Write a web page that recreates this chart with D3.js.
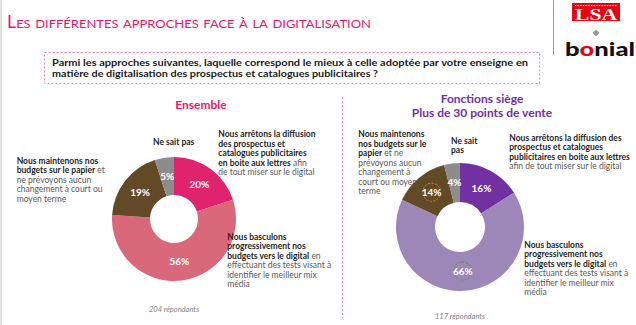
<!DOCTYPE html>
<html>
<head>
<meta charset="utf-8">
<script src="https://cdn.jsdelivr.net/npm/d3@7"></script>
<style>
  body { margin: 0; background: #fff; }
  svg { display: block; font-family: Lato, 'Open Sans', sans-serif; }
</style>
</head>
<body>
<div id="chart"></div>
<script>
// answers, in the order of the slices (clockwise from 12 o'clock)
const categories = ['arrete', 'bascule', 'maintient', 'nsp'];
const ensembleValues = [20, 56, 19, 5];
const siegeValues = [16, 66, 14, 4];

const ensembleColors = ['#E0236E', '#D9697A', '#634A27', '#8C8C8C'];
const siegeColors = ['#7131A0', '#9D86B8', '#634A27', '#8C8C8C'];

const title = 'Les différentes approches face à la digitalisation';
const questionLines = [
  'Parmi les approches suivantes, laquelle correspond le mieux à celle adoptée par votre enseigne en',
  'matière de digitalisation des prospectus et catalogues publicitaires ?'
];

// annotation texts: each line is [bold part, regular part]
const ensembleNotes = {
  maintient: [['Nous maintenons nos', ''], ['budgets sur le papier', ' et'], ['', 'ne prévoyons aucun'], ['', 'changement à court ou'], ['', 'moyen terme']],
  nsp: [['Ne sait pas', '']],
  arrete: [['Nous arrêtons la diffusion', ''], ['des prospectus et', ''], ['catalogues publicitaires', ''], ['en boite aux lettres', ' afin'], ['', 'de tout miser sur le digital']],
  bascule: [['Nous basculons', ''], ['progressivement nos', ''], ['budgets vers le digital', ' en'], ['', 'effectuant des tests visant à'], ['', 'identifier le meilleur mix'], ['', 'média']]
};
const siegeNotes = {
  maintient: [['Nous maintenons', ''], ['nos budgets sur le', ''], ['papier', ' et ne'], ['', 'prévoyons aucun'], ['', 'changement à'], ['', 'court ou moyen'], ['', 'terme']],
  nsp: [['Ne sait', ''], ['pas', '']],
  arrete: [['Nous arrêtons la diffusion des', ''], ['prospectus et catalogues', ''], ['publicitaires en boite aux lettres', ''], ['', 'afin de tout miser sur le digital']],
  bascule: [['Nous basculons', ''], ['progressivement nos', ''], ['budgets vers le digital', ' en'], ['', 'effectuant des tests visant à'], ['', 'identifier le meilleur mix'], ['', 'média']]
};

const width = 636;
const height = 325;

const svg = d3.select('#chart')
  .append('svg')
  .attr('width', width)
  .attr('height', height);

svg.append('rect').attr('width', width).attr('height', height).attr('fill', '#fff');
svg.append('line')
  .attr('x1', 1).attr('x2', 1).attr('y1', 0).attr('y2', height)
  .attr('stroke', '#e2e2e2').attr('stroke-width', 2);

// title
svg.append('text')
  .attr('x', 7)
  .attr('y', 28)
  .attr('fill', '#E5186F')
  .style('font-size', '16.5px')
  .style('font-variant', 'small-caps')
  .attr('textLength', 364)
  .attr('lengthAdjust', 'spacingAndGlyphs')
  .text(title);

// logos
svg.append('line')
  .attr('x1', 553.5).attr('x2', 553.5).attr('y1', 0).attr('y2', 55)
  .attr('stroke', '#9a9a9a').attr('stroke-width', 1);
const logo = svg.append('g');
logo.append('rect').attr('x', 572).attr('y', 3).attr('width', 48).attr('height', 18).attr('fill', '#E30613');
logo.append('line').attr('x1', 575).attr('x2', 617).attr('y1', 5.5).attr('y2', 5.5)
  .attr('stroke', '#fff').attr('stroke-width', 1).attr('stroke-dasharray', '1,0.6');
logo.append('text')
  .attr('x', 596).attr('y', 20)
  .attr('text-anchor', 'middle')
  .attr('fill', '#fff')
  .style('font-family', "'Liberation Serif', serif")
  .style('font-weight', 'bold')
  .style('font-size', '17px')
  .attr('textLength', 42)
  .attr('lengthAdjust', 'spacingAndGlyphs')
  .text('LSA');
logo.append('rect')
  .attr('x', -2.5).attr('y', -2.5).attr('width', 5).attr('height', 5)
  .attr('fill', '#999')
  .attr('transform', 'translate(596,33) rotate(45)');
const bonial = logo.append('text')
  .attr('x', 565).attr('y', 56)
  .style('font-weight', '900')
  .style('font-size', '19px')
  .attr('fill', '#111')
  .attr('textLength', 70)
  .attr('lengthAdjust', 'spacingAndGlyphs');
bonial.append('tspan').text('b');
bonial.append('tspan').attr('fill', '#E30613').text('o');
bonial.append('tspan').text('nial');

// question box
svg.append('rect')
  .attr('x', 44.5).attr('y', 52.5)
  .attr('width', 495).attr('height', 31)
  .attr('fill', 'none')
  .attr('stroke', '#F28DB8')
  .attr('stroke-dasharray', '2,2');
svg.selectAll('.question')
  .data(questionLines)
  .enter()
  .append('text')
  .attr('class', 'question')
  .attr('x', 52)
  .attr('y', (d, i) => 65.5 + i * 11.7)
  .attr('fill', '#1a1a1a')
  .style('font-weight', 'bold')
  .style('font-size', '10px')
  .attr('textLength', (d, i) => (i === 0 ? 476 : 326))
  .attr('lengthAdjust', 'spacingAndGlyphs')
  .text(d => d);

// separator
svg.append('line')
  .attr('x1', 342.5).attr('x2', 342.5).attr('y1', 97).attr('y2', 318)
  .attr('stroke', '#F28DB8').attr('stroke-width', 1.2).attr('stroke-dasharray', '2,2');

function writeNote(g, lines, x, y, lh) {
  lines.forEach((parts, i) => {
    const t = g.append('text')
      .attr('x', x)
      .attr('y', y + i * lh)
      .style('font-size', '8.5px');
    if (parts[0]) t.append('tspan').attr('fill', '#1e1e1e').style('font-weight', 'bold').text(parts[0]);
    if (parts[1]) t.append('tspan').attr('fill', '#5a5a5a').text(parts[1]);
  });
}

function drawDonut(cfg) {
  const g = svg.append('g');
  const pie = d3.pie().sort(null).value(d => d.value);
  const arc = d3.arc().innerRadius(cfg.inner).outerRadius(cfg.outer);
  const data = categories.map((c, i) => ({ key: c, value: cfg.values[i] }));
  const arcs = pie(data);

  const donut = g.append('g')
    .attr('transform', `translate(${cfg.cx},${cfg.cy})`);

  donut.selectAll('path')
    .data(arcs)
    .enter()
    .append('path')
    .attr('d', arc)
    .attr('fill', (d, i) => cfg.colors[i]);

  // dashed circles around some labels
  donut.selectAll('circle.mark')
    .data(arcs.filter(d => cfg.circled[d.data.key]))
    .enter()
    .append('circle')
    .attr('class', 'mark')
    .attr('cx', d => arc.centroid(d)[0])
    .attr('cy', d => arc.centroid(d)[1] - 0.5)
    .attr('r', 9)
    .attr('fill', 'none')
    .attr('stroke', d => cfg.circled[d.data.key])
    .attr('stroke-width', 1)
    .attr('stroke-dasharray', '2,1.5');

  donut.selectAll('text.pct')
    .data(arcs)
    .enter()
    .append('text')
    .attr('class', 'pct')
    .attr('x', d => arc.centroid(d)[0])
    .attr('y', d => arc.centroid(d)[1] + 3.5)
    .attr('text-anchor', 'middle')
    .attr('fill', '#fff')
    .style('font-weight', 'bold')
    .style('font-size', '10px')
    .text(d => d.value + '%');

  cfg.headings.forEach((h, i) => {
    g.append('text')
      .attr('x', cfg.headX)
      .attr('y', cfg.headY + i * 13.5)
      .attr('text-anchor', 'middle')
      .attr('fill', cfg.headColor)
      .style('font-weight', 'bold')
      .style('font-size', '12px')
      .text(h);
  });

  Object.keys(cfg.notes).forEach(k => {
    const p = cfg.notePos[k];
    writeNote(g, cfg.notes[k], p[0], p[1], p[2]);
  });

  g.append('text')
    .attr('x', cfg.cx)
    .attr('y', cfg.footY)
    .attr('text-anchor', 'middle')
    .attr('fill', '#7f7f7f')
    .style('font-style', 'italic')
    .style('font-size', '7.5px')
    .text(cfg.foot);
}

drawDonut({
  values: ensembleValues,
  colors: ensembleColors,
  cx: 174, cy: 219, inner: 24, outer: 62,
  circled: {},
  headings: ['Ensemble'],
  headX: 201, headY: 109, headColor: '#E5186F',
  notes: ensembleNotes,
  notePos: {
    maintient: [16.7, 163.7, 9.5],
    nsp: [153, 145.3, 9.5],
    arrete: [218.3, 137, 9.5],
    bascule: [227.3, 239.7, 9.5]
  },
  foot: '204 répondants', footY: 312
});

drawDonut({
  values: siegeValues,
  colors: siegeColors,
  cx: 460, cy: 227, inner: 25, outer: 64,
  circled: { maintient: '#E07B1A', bascule: '#5F8F4E' },
  headings: ['Fonctions siège', 'Plus de 30 points de vente'],
  headX: 482, headY: 103, headColor: '#7030A0',
  notes: siegeNotes,
  notePos: {
    maintient: [358.3, 137, 9.5],
    nsp: [451, 143.7, 9.6],
    arrete: [509.3, 140.7, 9.4],
    bascule: [524.3, 248, 9.4]
  },
  foot: '117 répondants', footY: 319
});
</script>
</body>
</html>
